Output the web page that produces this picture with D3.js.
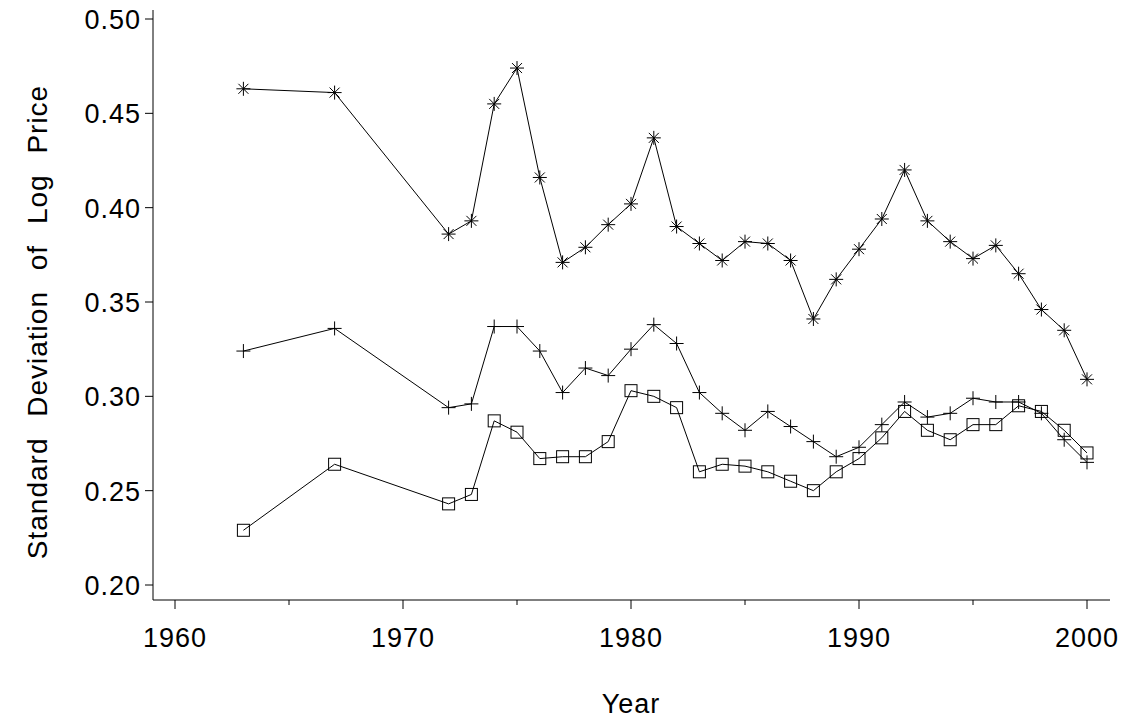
<!DOCTYPE html><html><head><meta charset="utf-8"><script src="https://cdn.jsdelivr.net/npm/d3@7/dist/d3.min.js"></script>
<style>body{margin:0;background:#fff}text{font-family:"Liberation Sans",Arial,sans-serif;fill:#000;letter-spacing:1px}</style></head><body><svg width="1132" height="723"></svg><script>
const years=[1963,1967,1972,1973,1974,1975,1976,1977,1978,1979,1980,1981,1982,1983,1984,1985,1986,1987,1988,1989,1990,1991,1992,1993,1994,1995,1996,1997,1998,1999,2000];
const starSeries=[0.463,0.461,0.386,0.393,0.455,0.474,0.416,0.371,0.379,0.391,0.402,0.437,0.390,0.381,0.372,0.382,0.381,0.372,0.341,0.362,0.378,0.394,0.420,0.393,0.382,0.373,0.380,0.365,0.346,0.335,0.309];
const plusSeries=[0.324,0.336,0.294,0.296,0.337,0.337,0.324,0.302,0.315,0.311,0.325,0.338,0.328,0.302,0.291,0.282,0.292,0.284,0.276,0.268,0.273,0.285,0.297,0.289,0.291,0.299,0.297,0.297,0.291,0.277,0.265];
const squareSeries=[0.229,0.264,0.243,0.248,0.287,0.281,0.267,0.268,0.268,0.276,0.303,0.300,0.294,0.260,0.264,0.263,0.260,0.255,0.250,0.260,0.267,0.278,0.292,0.282,0.277,0.285,0.285,0.295,0.292,0.282,0.270];
const xTicks=[1960,1970,1980,1990,2000];
const yTicks=[0.20,0.25,0.30,0.35,0.40,0.45,0.50];
const svg=d3.select("svg");
const x=d3.scaleLinear().domain([1960,2000]).range([175,1087]);
const y=d3.scaleLinear().domain([0.2,0.5]).range([585,19]);
const g=svg.append("g");
g.append("line").attr("x1",153).attr("x2",153).attr("y1",10).attr("y2",600).attr("stroke","#000");
g.append("line").attr("x1",153).attr("x2",1110).attr("y1",600).attr("y2",600).attr("stroke","#000");
yTicks.forEach(t=>{g.append("line").attr("x1",145).attr("x2",153).attr("y1",y(t)).attr("y2",y(t)).attr("stroke","#000");
 g.append("text").attr("x",141).attr("y",y(t)+10).attr("text-anchor","end").attr("font-size",27).text(t.toFixed(2));});
d3.range(1960,2001,5).forEach(t=>{g.append("line").attr("x1",x(t)).attr("x2",x(t)).attr("y1",600).attr("y2",t%10?605:609).attr("stroke","#000");});
xTicks.forEach(t=>g.append("text").attr("x",x(t)).attr("y",647).attr("text-anchor","middle").attr("font-size",27).text(t));
g.append("text").attr("x",x(1980)).attr("y",713).attr("text-anchor","middle").attr("font-size",27).text("Year");
g.append("text").attr("transform",`translate(47,${y(0.35)+20}) rotate(-90)`).attr("text-anchor","middle").attr("font-size",28).attr("letter-spacing","1.5px").attr("word-spacing",12).text("Standard Deviation of Log Price");
const line=d3.line().x((d,i)=>x(years[i])).y(d=>y(d));
[starSeries,plusSeries,squareSeries].forEach((s,k)=>{
 g.append("path").attr("d",line(s)).attr("fill","none").attr("stroke","#000").attr("stroke-width",1);
 s.forEach((v,i)=>{const cx=x(years[i]),cy=y(v);
  if(k==2) g.append("rect").attr("x",cx-6).attr("y",cy-6).attr("width",12).attr("height",12).attr("fill","none").attr("stroke","#000");
  else{const r=7;g.append("path").attr("d",`M${cx-r},${cy}H${cx+r}M${cx},${cy-r}V${cy+r}`+(k==0?`M${cx-5},${cy-5}L${cx+5},${cy+5}M${cx-5},${cy+5}L${cx+5},${cy-5}`:"")).attr("stroke","#000");}
 });
});
</script></body></html>
